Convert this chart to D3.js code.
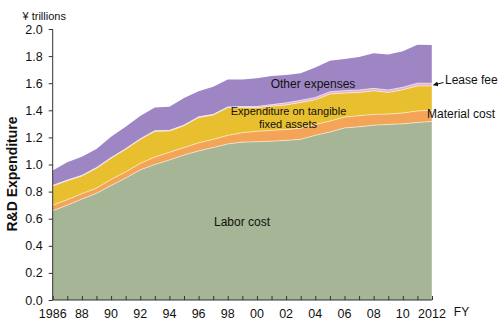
<!DOCTYPE html>
<html>
<head>
<meta charset="utf-8">
<script src="https://cdn.jsdelivr.net/npm/d3@7"></script>
<style>
  html, body { margin: 0; padding: 0; background: #fff; }
  svg { display: block; font-family: Arial, "Liberation Sans", sans-serif; }
</style>
</head>
<body>
<svg id="chart" width="500" height="326"></svg>
<script>
// Fiscal years
const years = d3.range(1986, 2013);

// R&D expenditure by cost item, ¥ trillions
const laborCost = [0.659, 0.700, 0.745, 0.787, 0.845, 0.900, 0.960, 1.000, 1.033, 1.070,
  1.100, 1.125, 1.152, 1.165, 1.168, 1.172, 1.178, 1.186, 1.215, 1.240,
  1.270, 1.278, 1.290, 1.296, 1.300, 1.310, 1.318];
const materialCost = [0.041, 0.040, 0.040, 0.038, 0.045, 0.045, 0.048, 0.055, 0.057, 0.055,
  0.060, 0.060, 0.063, 0.070, 0.077, 0.080, 0.080, 0.082, 0.080, 0.080,
  0.080, 0.082, 0.080, 0.076, 0.080, 0.085, 0.084];
const tangibleAssets = [0.141, 0.140, 0.130, 0.147, 0.156, 0.167, 0.177, 0.190, 0.157, 0.161,
  0.187, 0.180, 0.205, 0.187, 0.175, 0.178, 0.182, 0.190, 0.183, 0.200,
  0.177, 0.172, 0.174, 0.160, 0.172, 0.185, 0.178];
const leaseFee = [0.005, 0.005, 0.005, 0.005, 0.005, 0.005, 0.005, 0.005, 0.005, 0.005,
  0.005, 0.005, 0.005, 0.006, 0.008, 0.012, 0.015, 0.016, 0.017, 0.017,
  0.018, 0.018, 0.018, 0.018, 0.018, 0.020, 0.020];
const otherExpenses = [0.109, 0.131, 0.138, 0.137, 0.154, 0.162, 0.168, 0.170, 0.175, 0.199,
  0.188, 0.204, 0.203, 0.200, 0.208, 0.211, 0.205, 0.199, 0.220, 0.228,
  0.234, 0.243, 0.259, 0.262, 0.266, 0.284, 0.282];

// Axis ticks
const yTicks = [0, 0.2, 0.4, 0.6, 0.8, 1.0, 1.2, 1.4, 1.6, 1.8, 2.0];
const xLabelYears = d3.range(1986, 2013, 2);

const seriesKeys = ["labor", "material", "tangible", "lease", "other"];
const seriesColors = {
  labor: "#a6b595",
  material: "#f3a457",
  tangible: "#e8bf2e",
  lease: "#e8b3cc",
  other: "#9e86c4"
};

const rows = years.map((yr, i) => ({
  year: yr,
  labor: laborCost[i],
  material: materialCost[i],
  tangible: tangibleAssets[i],
  lease: leaseFee[i],
  other: otherExpenses[i]
}));

const svg = d3.select("#chart");
const x = d3.scaleLinear().domain([1986, 2012]).range([52.7, 432]);
const y = d3.scaleLinear().domain([0, 2]).range([300, 29]);

const stacked = d3.stack().keys(seriesKeys)(rows);

const area = d3.area()
  .x(d => x(d.data.year))
  .y0(d => y(d[0]))
  .y1(d => y(d[1]));

svg.append("g").selectAll("path")
  .data(stacked)
  .join("path")
  .attr("d", area)
  .attr("fill", d => seriesColors[d.key]);

// light seams between the layers
const seam = d3.line()
  .x(d => x(d.data.year))
  .y(d => y(d[1]));
svg.append("g").selectAll("path")
  .data(stacked.slice(0, 4))
  .join("path")
  .attr("d", seam)
  .attr("fill", "none")
  .attr("stroke", "#fff")
  .attr("stroke-opacity", 0.6)
  .attr("stroke-width", 0.9);

// right edge seam
svg.append("line")
  .attr("x1", x(2012)).attr("x2", x(2012))
  .attr("y1", y(0)).attr("y2", y(stacked[4][26][1]))
  .attr("stroke", "#fff").attr("stroke-opacity", 0.5).attr("stroke-width", 0.8);

// Y axis
const yAxis = d3.axisLeft(y).tickValues(yTicks).tickFormat(d3.format(".1f")).tickSize(4).tickPadding(6);
const gy = svg.append("g").attr("transform", `translate(${x(1986)},0)`).call(yAxis);
gy.select(".domain").attr("stroke", "#333").attr("d", `M-0,${y(2)}V${y(0)}`);
gy.selectAll(".tick line").attr("stroke", "#333");
gy.selectAll(".tick text").attr("font-size", 12.5).attr("fill", "#111").attr("font-family", "Arial, 'Liberation Sans', sans-serif");

// X axis, ticks every year pointing up
const xAxis = d3.axisBottom(x).tickValues(years).tickSize(-4).tickFormat(() => "");
const gx = svg.append("g").attr("transform", `translate(0,${y(0)})`).call(xAxis);
gx.select(".domain").attr("stroke", "#333").attr("d", `M${x(1986)},0H${x(2012)}`);
gx.selectAll(".tick line").attr("stroke", "#333");

svg.append("g").selectAll("text")
  .data(xLabelYears)
  .join("text")
  .attr("x", d => x(d))
  .attr("y", 317.5)
  .attr("text-anchor", "middle")
  .attr("font-size", 12.5)
  .attr("fill", "#111")
  .text(d => (d === 1986 || d === 2012) ? String(d) : String(d).slice(2));

svg.append("text").attr("x", 461.5).attr("y", 316).attr("text-anchor", "middle")
  .attr("font-size", 12).attr("fill", "#111").text("FY");

// Axis titles
svg.append("text").attr("x", 22.5).attr("y", 20).attr("font-size", 11).attr("fill", "#111").text("¥ trillions");
svg.append("text")
  .attr("transform", "translate(17,174) rotate(-90)")
  .attr("text-anchor", "middle")
  .attr("font-size", 14)
  .attr("font-weight", "bold")
  .attr("fill", "#111")
  .text("R&D Expenditure");

// Series labels
const lbl = (tx, ty, t, size, anchor) => svg.append("text")
  .attr("x", tx).attr("y", ty).attr("font-size", size)
  .attr("text-anchor", anchor || "middle").attr("fill", "#111").text(t);

lbl(313, 87.5, "Other expenses", 12);
lbl(288.5, 114.8, "Expenditure on tangible", 11);
lbl(288, 128, "fixed assets", 11);
lbl(242, 226.3, "Labor cost", 12);
lbl(427, 117.5, "Material cost", 12, "start");
lbl(445, 84.3, "Lease fee", 12, "start");

// arrow pointing to the lease fee band
svg.append("defs").append("marker")
  .attr("id", "ah").attr("viewBox", "0 0 10 10").attr("refX", 9).attr("refY", 5)
  .attr("markerWidth", 5).attr("markerHeight", 5).attr("orient", "auto")
  .append("path").attr("d", "M0,0L10,5L0,10z").attr("fill", "#111");
svg.append("line")
  .attr("x1", 443.5).attr("y1", 82.5).attr("x2", 433.5).attr("y2", 85)
  .attr("stroke", "#111").attr("stroke-width", 1).attr("marker-end", "url(#ah)");
</script>
</body>
</html>
